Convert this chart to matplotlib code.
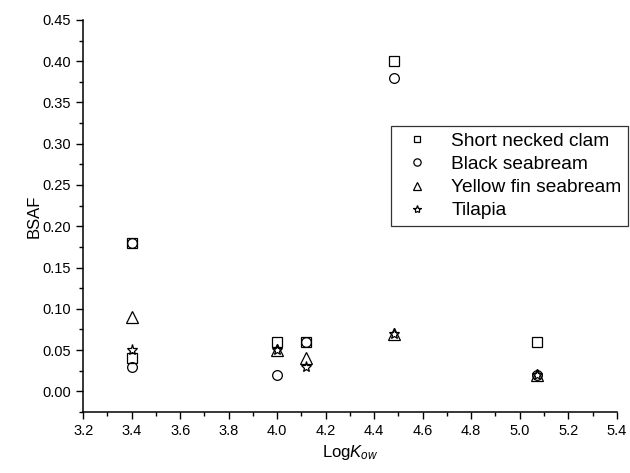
import matplotlib
matplotlib.use("Agg")
import matplotlib.pyplot as plt
from matplotlib.ticker import MultipleLocator

plt.rcParams['font.family'] = ['Liberation Sans', 'DejaVu Sans']
plt.rcParams['mathtext.fontset'] = 'custom'
plt.rcParams['mathtext.rm'] = 'Liberation Sans'
plt.rcParams['mathtext.it'] = 'Liberation Sans:italic'

# data
clam_x = [3.4, 3.4, 4.0, 4.12, 4.48, 5.07]
clam_y = [0.18, 0.04, 0.06, 0.06, 0.40, 0.06]
black_x = [3.4, 3.4, 4.0, 4.12, 4.48, 5.07]
black_y = [0.18, 0.03, 0.02, 0.06, 0.38, 0.02]
yellow_x = [3.4, 4.0, 4.12, 4.48, 5.07]
yellow_y = [0.09, 0.05, 0.04, 0.07, 0.02]
tilapia_x = [3.4, 4.0, 4.12, 4.48, 5.07]
tilapia_y = [0.05, 0.05, 0.03, 0.07, 0.02]

fig = plt.figure(figsize=(6.3, 4.73), dpi=100)
ax = fig.add_axes([0.132, 0.129, 0.847, 0.829])

kw = dict(linestyle='none', markerfacecolor='none', markeredgecolor='black', markeredgewidth=0.9)
ax.plot(clam_x, clam_y, marker='s', markersize=6.5, label='Short necked clam', **kw)
ax.plot(black_x, black_y, marker='o', markersize=7, label='Black seabream', **kw)
ax.plot(yellow_x, yellow_y, marker='^', markersize=8, label='Yellow fin seabream', **kw)
ax.plot(tilapia_x, tilapia_y, marker='*', markersize=8, label='Tilapia', **kw)

ax.set_xlim(3.2, 5.4)
ax.set_ylim(-0.025, 0.45)
ax.xaxis.set_major_locator(MultipleLocator(0.2))
ax.xaxis.set_minor_locator(MultipleLocator(0.1))
ax.yaxis.set_major_locator(MultipleLocator(0.05))
ax.yaxis.set_minor_locator(MultipleLocator(0.025))
ax.xaxis.set_major_formatter(plt.FormatStrFormatter('%.1f'))
ax.yaxis.set_major_formatter(plt.FormatStrFormatter('%.2f'))
ax.tick_params(which='major', direction='out', length=5, width=1, labelsize=10.5)
ax.tick_params(which='minor', direction='out', length=3, width=1)

ax.spines['top'].set_visible(False)
ax.spines['right'].set_visible(False)
for s in ['left', 'bottom']:
    ax.spines[s].set_linewidth(1.1)

ax.set_xlabel(r'Log$\mathit{K}_{\mathit{ow}}$', fontsize=12, labelpad=4)
ax.set_ylabel('BSAF', fontsize=12, labelpad=1)

leg = ax.legend(loc='upper right', bbox_to_anchor=(0.997, 0.734), bbox_transform=fig.transFigure,
                fontsize=13.8, frameon=True, fancybox=False, edgecolor='black',
                handletextpad=0.8, borderpad=0.35, labelspacing=0.3, handlelength=2.0,
                borderaxespad=0, markerscale=0.75)
leg.get_frame().set_linewidth(0.9)

fig.savefig('out.png', dpi=100)
